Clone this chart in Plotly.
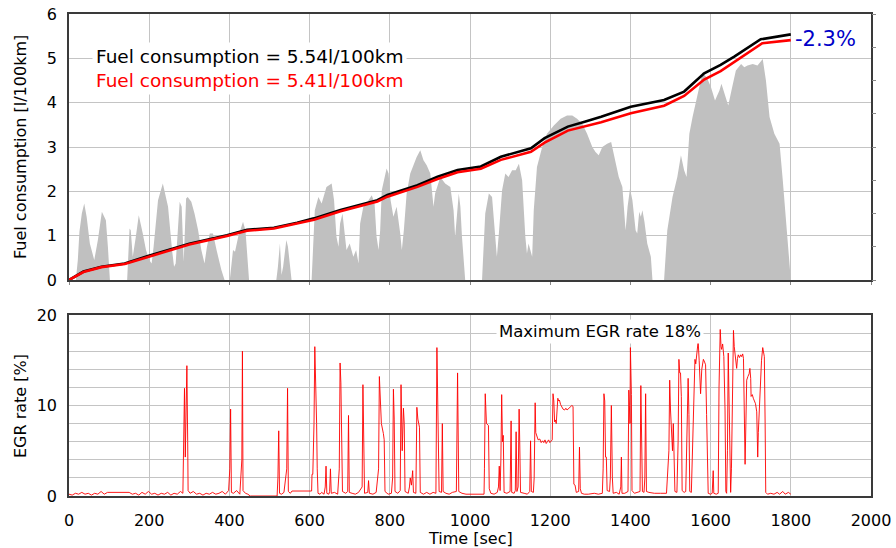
import plotly.graph_objects as go

# Vehicle speed over the drive cycle (time [s], speed [km/h]) - drawn as grey area
speed_samples = [
    (0, 0), (17, 0), (22, 12), (26, 29), (32, 40), (38, 46), (44, 38), (52, 22), (63, 12),
    (72, 24), (82, 41), (92, 36), (97, 20), (102, 0), (145, 0), (149, 20), (151, 31),
    (154, 30), (159, 14), (166, 25), (174, 39), (184, 28), (192, 18), (200, 12), (206, 10),
    (211, 20), (222, 48), (234, 58), (247, 44), (257, 18), (262, 8), (266, 10), (276, 47),
    (281, 44), (286, 11), (292, 49), (296, 50), (305, 47), (313, 40), (322, 30), (330, 18),
    (338, 10), (344, 20), (351, 28), (359, 28), (368, 18), (380, 6), (388, 0), (401, 0),
    (409, 18), (414, 17), (422, 26), (434, 35), (440, 30), (446, 12), (449, 0), (517, 0),
    (521, 8), (526, 22), (530, 3), (534, 8), (542, 24), (546, 20), (551, 6), (555, 0),
    (605, 0), (609, 20), (613, 42), (622, 50), (630, 46), (642, 56), (655, 58), (661, 48),
    (667, 26), (672, 20), (676, 34), (682, 40), (687, 30), (692, 18), (700, 22), (709, 14),
    (716, 18), (722, 10), (726, 34), (734, 44), (747, 48), (755, 51), (762, 46), (767, 26),
    (772, 18), (776, 30), (780, 54), (792, 67), (797, 64), (802, 48), (809, 38), (817, 44),
    (826, 28), (830, 18), (835, 30), (842, 52), (851, 64), (867, 74), (876, 78), (884, 72),
    (892, 69), (901, 64), (909, 44), (913, 52), (926, 62), (938, 58), (951, 56), (959, 42),
    (963, 26), (967, 40), (972, 52), (976, 44), (980, 26), (988, 0), (1030, 0), (1034, 20),
    (1038, 40), (1047, 52), (1055, 50), (1063, 26), (1067, 14), (1072, 28), (1080, 54),
    (1088, 64), (1096, 62), (1105, 66), (1114, 66), (1122, 70), (1130, 60), (1138, 26),
    (1142, 16), (1146, 22), (1150, 18), (1155, 14), (1159, 42), (1167, 68), (1180, 80),
    (1192, 88), (1209, 93), (1226, 97), (1242, 99), (1255, 99), (1267, 97), (1280, 94),
    (1292, 88), (1305, 80), (1313, 77), (1321, 75), (1330, 80), (1342, 82), (1352, 83),
    (1363, 70), (1371, 62), (1380, 56), (1384, 42), (1388, 30), (1393, 44), (1399, 55),
    (1405, 48), (1413, 30), (1417, 28), (1422, 41), (1426, 38), (1430, 42), (1435, 35),
    (1442, 22), (1451, 14), (1455, 0), (1484, 0), (1488, 16), (1492, 30), (1505, 50),
    (1517, 62), (1526, 75), (1534, 66), (1540, 62), (1547, 88), (1555, 98), (1567, 112),
    (1580, 125), (1592, 121), (1601, 116), (1611, 108), (1622, 114), (1627, 118),
    (1634, 113), (1644, 105), (1652, 114), (1663, 126), (1676, 130), (1684, 128),
    (1692, 129), (1705, 130), (1717, 129), (1730, 133), (1738, 120), (1747, 98),
    (1759, 88), (1772, 82), (1780, 60), (1788, 38), (1797, 10), (1800, 0),
]

# Cumulative fuel consumption [l/100km], baseline engine
fuel_base = [
    (0, 0), (15, 0.08), (36, 0.19), (81, 0.30), (139, 0.37), (197, 0.54), (256, 0.71),
    (300, 0.82), (394, 1.01), (444, 1.13), (511, 1.18), (569, 1.29), (611, 1.39),
    (677, 1.58), (769, 1.80), (794, 1.92), (869, 2.14), (919, 2.33), (969, 2.48),
    (1027, 2.56), (1077, 2.78), (1152, 2.97), (1186, 3.20), (1244, 3.46), (1286, 3.57),
    (1327, 3.68), (1401, 3.91), (1484, 4.06), (1534, 4.25), (1584, 4.66), (1625, 4.85),
    (1659, 5.04), (1725, 5.43), (1800, 5.54),
]

# Cumulative fuel consumption [l/100km], with EGR
fuel_egr = [
    (0, 0), (15, 0.07), (36, 0.18), (81, 0.29), (139, 0.36), (197, 0.52), (256, 0.69),
    (300, 0.80), (394, 0.99), (444, 1.11), (511, 1.16), (569, 1.27), (611, 1.36),
    (677, 1.55), (769, 1.77), (794, 1.88), (869, 2.10), (919, 2.28), (969, 2.43),
    (1027, 2.51), (1077, 2.71), (1152, 2.89), (1186, 3.10), (1244, 3.37), (1286, 3.47),
    (1327, 3.56), (1401, 3.76), (1484, 3.93), (1534, 4.15), (1584, 4.52), (1625, 4.71),
    (1659, 4.92), (1729, 5.34), (1800, 5.41),
]

# EGR rate [%] over time
egr_samples = [
    (0, 0.2), (8, 0.1), (16, 0.3), (24, 0.2), (32, 0.4), (40, 0.2), (48, 0.3), (56, 0.1),
    (64, 0.3), (72, 0.2), (80, 0.5), (88, 0.2), (96, 0.4), (104, 0.4), (150, 0.4),
    (158, 0.2), (166, 0.3), (174, 0.1), (182, 0.4), (190, 0.2), (198, 0.5), (206, 0.2),
    (214, 0.3), (222, 0.1), (230, 0.3), (238, 0.2), (246, 0.4), (254, 0.1), (262, 0.3),
    (270, 0.2), (278, 0.5), (284, 0.3), (286, 5.0), (288, 11.9), (290, 4.3), (292, 13.0),
    (294, 14.4), (296, 6.0), (297, 0.6), (302, 0.3), (310, 0.5), (318, 0.2), (326, 0.3),
    (334, 0.1), (342, 0.3), (350, 0.2), (358, 0.4), (366, 0.2), (374, 0.3), (382, 0.5),
    (390, 0.2), (398, 0.6), (401, 3.0), (403, 9.6), (405, 0.4), (410, 0.3), (418, 0.6),
    (426, 0.2), (431, 4.0), (432.5, 16.0), (434, 0.6), (440, 0.3), (446, 0.2), (452, 0.0),
    (519, 0.0), (521, 2.0), (523, 7.2), (525, 0.3), (530, 0.2), (536, 0.4), (543, 3.0),
    (545, 11.9), (547, 0.5), (552, 0.3), (556, 0.55), (605, 0.55), (606, 2.4), (608, 2.4),
    (611, 8.0), (613, 16.5), (615, 12.8), (616, 14.0), (617.5, 8.0), (619, 3.0), (621, 0.3),
    (626, 0.2), (630, 0.4), (636, 0.2), (639, 1.0), (641, 3.3), (643, 0.3), (648, 0.2),
    (650, 0.5), (652, 3.0), (654, 0.3), (662, 0.4), (670, 0.2), (674, 3.0), (676, 14.7),
    (678, 12.5), (680, 6.1), (682, 0.5), (690, 0.3), (695, 0.5), (697, 8.9), (699, 0.4),
    (706, 0.3), (714, 0.2), (722, 0.4), (731, 1.0), (733, 12.3), (735, 6.0), (737, 0.3),
    (745, 0.4), (747, 1.7), (749, 0.3), (758, 0.2), (766, 0.4), (772, 3.0), (774, 13.2),
    (776, 10.5), (779, 8.0), (784, 6.9), (786, 6.2), (788, 0.5), (796, 0.2), (804, 0.3),
    (807, 2.0), (809, 11.8), (811, 8.5), (813, 0.5), (820, 0.3), (826, 0.6), (828, 12.3),
    (831, 5.0), (834, 9.7), (836, 8.0), (838, 0.5), (846, 0.3), (849, 1.0), (851, 2.0),
    (854, 1.2), (857, 2.8), (859, 0.4), (865, 0.3), (867.5, 9.8), (870, 8.5), (874, 7.6),
    (876, 0.4), (884, 0.2), (892, 0.4), (900, 0.2), (908, 0.4), (915, 0.3), (917.5, 16.4),
    (919.5, 11.0), (921, 8.7), (923, 0.5), (929, 0.4), (931, 8.0), (933, 0.5), (940, 0.3),
    (948, 0.2), (956, 0.4), (966, 0.5), (969, 13.6), (972, 0.5), (980, 0.3), (990, 0.2),
    (1000, 0.2), (1035, 0.2), (1036, 3.0), (1038, 11.3), (1041, 8.0), (1044, 7.8),
    (1046, 7.8), (1048, 0.8), (1052, 0.3), (1060, 0.2), (1068, 0.4), (1071, 1.0),
    (1073, 3.3), (1075, 0.6), (1077, 4.0), (1079, 11.2), (1081, 6.0), (1083, 6.7),
    (1085, 0.4), (1092, 0.3), (1100, 0.5), (1102.5, 8.3), (1104, 0.4), (1110, 0.3),
    (1113, 0.6), (1115, 7.1), (1117, 0.5), (1120, 1.0), (1122.5, 9.6), (1124, 6.0),
    (1126, 0.4), (1135, 0.3), (1143, 0.2), (1149, 0.5), (1151, 6.1), (1153, 0.5),
    (1158, 0.4), (1160, 2.0), (1162.5, 10.3), (1164, 7.0), (1166, 6.7), (1170, 6.2),
    (1174, 6.3), (1177.5, 5.9), (1181, 6.1), (1184, 5.9), (1187, 6.2), (1190, 5.8),
    (1193, 6.0), (1196, 6.2), (1199, 5.9), (1202.5, 6.1), (1205, 6.2), (1207, 11.3),
    (1209, 10.5), (1211, 8.2), (1213, 8.4), (1215, 8.0), (1217, 10.6), (1219, 10.8),
    (1221, 10.5), (1223, 10.6), (1226, 10.1), (1229, 9.9), (1232, 9.6), (1236, 9.5),
    (1239, 9.7), (1242, 9.5), (1246, 9.7), (1250, 9.9), (1254, 10.0), (1257, 9.9),
    (1258, 4.0), (1259, 1.3), (1262, 1.2), (1265, 0.4), (1271, 0.5), (1273, 5.4),
    (1275, 0.8), (1278, 0.3), (1285, 0.2), (1295, 0.2), (1310, 0.3), (1320, 0.2),
    (1330, 0.3), (1332, 3.0), (1334, 11.3), (1336, 10.5), (1338, 4.3), (1340, 4.3),
    (1342, 0.6), (1348, 0.5), (1350, 2.0), (1352.5, 10.0), (1355, 2.0), (1357, 0.3),
    (1365, 0.4), (1372, 0.2), (1376, 1.0), (1377.5, 4.3), (1379, 0.3), (1386, 0.3),
    (1394, 0.5), (1396, 11.7), (1397.5, 10.0), (1399, 8.0), (1400, 16.4), (1402.5, 11.2),
    (1404, 0.6), (1410, 0.3), (1418, 0.4), (1424, 0.5), (1426, 12.2), (1428, 8.0),
    (1430, 0.5), (1434, 0.4), (1436, 2.0), (1438, 11.3), (1440, 0.5), (1446, 0.4),
    (1460, 0.3), (1475, 0.3), (1490, 0.3), (1496, 5.0), (1498, 12.8), (1500, 9.5),
    (1503, 7.0), (1505, 5.0), (1507, 8.0), (1509, 4.5), (1511, 0.5), (1516, 0.4),
    (1519, 6.0), (1521, 15.1), (1523, 13.6), (1525, 13.6), (1527, 11.0), (1529, 0.6),
    (1534, 0.4), (1538, 0.5), (1541, 8.0), (1544, 13.0), (1546, 9.0), (1548, 0.5),
    (1552, 0.4), (1555, 5.0), (1558, 11.0), (1561, 15.1), (1563, 14.6), (1566, 15.6),
    (1569, 17.1), (1571.5, 15.0), (1574, 12.0), (1575, 11.3), (1578, 14.0), (1582, 15.1),
    (1585, 14.8), (1587.5, 14.5), (1590, 9.0), (1592.5, 3.5), (1594, 0.3), (1600, 0.2),
    (1604, 0.3), (1606.5, 2.8), (1608, 0.3), (1614, 0.2), (1619, 0.3), (1621, 12.0),
    (1624, 18.4), (1626, 16.5), (1627.5, 16.2), (1630, 16.8), (1633, 15.4), (1636, 9.5),
    (1638, 0.5), (1640, 0.3), (1642, 5.0), (1644, 15.8), (1646, 11.0), (1648, 4.0),
    (1650, 0.4), (1652, 3.0), (1655, 15.0), (1657, 18.3), (1659, 16.5), (1661, 15.8),
    (1663, 14.8), (1665, 14.1), (1667, 15.2), (1669, 15.6), (1672, 15.3), (1675, 15.6),
    (1677.5, 15.4), (1680, 15.7), (1682, 15.2), (1684, 8.0), (1686, 3.5), (1688, 8.0),
    (1690, 12.8), (1693, 13.2), (1696, 13.5), (1698, 14.1), (1700, 13.0), (1701, 11.0),
    (1704, 11.2), (1706.5, 10.8), (1709, 10.6), (1712, 10.2), (1715, 9.3), (1716, 7.0),
    (1717.5, 4.3), (1719, 7.0), (1721, 9.0), (1723, 11.3), (1725, 13.0), (1727, 15.0),
    (1730, 16.4), (1732, 16.0), (1734, 15.4), (1736, 8.0), (1737.5, 0.4), (1742, 0.2),
    (1750, 0.3), (1758, 0.2), (1766, 0.4), (1772, 0.2), (1780, 0.5), (1786, 0.2),
    (1794, 0.4), (1800, 0.2),
]

x_ticks = [0, 200, 400, 600, 800, 1000, 1200, 1400, 1600, 1800, 2000]

FONT = "DejaVu Sans"
GRID = "#c4c4c4"
FRAME = "#3a3a3a"

# Figure geometry (pixels)
W, H = 896, 548
ML, MR, MT, MB = 69, 25, 14, 52
PW, PH = W - ML - MR, H - MT - MB


def px_x(px):
    return (px - ML) / PW


def px_y(py):
    return (H - MB - py) / PH


def unzip(pairs):
    return [p[0] for p in pairs], [p[1] for p in pairs]


spd_t, spd_v = unzip(speed_samples)
fb_t, fb_v = unzip(fuel_base)
fe_t, fe_v = unzip(fuel_egr)
egr_t, egr_v = unzip(egr_samples)

fig = go.Figure()

fig.add_trace(go.Scatter(
    x=spd_t, y=spd_v, xaxis="x", yaxis="y2", mode="lines",
    line=dict(width=0, color="#c0c0c0"), fill="tozeroy", fillcolor="#c0c0c0",
    showlegend=False, hoverinfo="skip",
))
fig.add_trace(go.Scatter(
    x=fb_t, y=fb_v, xaxis="x", yaxis="y3", mode="lines",
    line=dict(width=2.6, color="black"), showlegend=False,
))
fig.add_trace(go.Scatter(
    x=fe_t, y=fe_v, xaxis="x", yaxis="y3", mode="lines",
    line=dict(width=2.6, color="#ff0000"), showlegend=False,
))
fig.add_trace(go.Scatter(
    x=egr_t, y=egr_v, xaxis="x2", yaxis="y4", mode="lines",
    line=dict(width=1, color="rgba(255,0,0,0.9)"), showlegend=False,
))

frame = dict(showline=True, mirror=True, linecolor=FRAME, linewidth=1.5, zeroline=False)
tickfont = dict(family=FONT, size=16, color="black")
titlefont = dict(family=FONT, size=16, color="black")

fig.update_layout(
    width=W, height=H,
    margin=dict(l=ML, r=MR, t=MT, b=MB, autoexpand=False),
    paper_bgcolor="white", plot_bgcolor="white",
    font=dict(family=FONT, color="black"),
    xaxis=dict(
        domain=[0, 1], anchor="y", range=[0, 2000], tickvals=x_ticks,
        showticklabels=False, ticks="outside", ticklen=3, tickcolor="#888888",
        showgrid=True, gridcolor=GRID, gridwidth=1, **frame,
    ),
    yaxis=dict(
        domain=[px_y(280), 1], anchor="x", range=[0, 6], dtick=1,
        showgrid=True, gridcolor=GRID, gridwidth=1, ticks="",
        tickfont=tickfont, ticklabelstandoff=7, **frame,
    ),
    yaxis2=dict(
        overlaying="y", side="right", anchor="x", range=[0, 160], dtick=20,
        showticklabels=False, ticks="outside", ticklen=4, tickcolor="#888888",
        showgrid=False, zeroline=False, showline=False,
    ),
    yaxis3=dict(overlaying="y", anchor="x", range=[0, 6], visible=False),
    xaxis2=dict(
        domain=[0, 1], anchor="y4", range=[0, 2000], tickvals=x_ticks,
        ticks="", tickfont=tickfont, ticklabelstandoff=9,
        showgrid=True, gridcolor=GRID, gridwidth=1, **frame,
    ),
    yaxis4=dict(
        domain=[0, px_y(315)], anchor="x2", range=[0, 20], dtick=10,
        showgrid=True, gridcolor=GRID, gridwidth=1, ticks="",
        minor=dict(dtick=2, showgrid=True, gridcolor=GRID, gridwidth=1),
        tickfont=tickfont, ticklabelstandoff=7, **frame,
    ),
)

# Axis titles
fig.add_annotation(
    xref="paper", yref="paper", x=px_x(20), y=px_y(147), textangle=-90,
    text="Fuel consumption [l/100km]", showarrow=False,
    xanchor="center", yanchor="middle", font=titlefont,
)
fig.add_annotation(
    xref="paper", yref="paper", x=px_x(20), y=px_y(406), textangle=-90,
    text="EGR rate [%]", showarrow=False,
    xanchor="center", yanchor="middle", font=titlefont,
)
fig.add_annotation(
    xref="paper", yref="paper", x=px_x(470), y=px_y(538),
    text="Time [sec]", showarrow=False,
    xanchor="center", yanchor="middle", font=titlefont,
)

base_end = fb_v[-1]
egr_end = fe_v[-1]
change = (egr_end / base_end - 1) * 100

fig.add_annotation(
    xref="x", yref="y", x=57, y=4.76, xanchor="left", yanchor="middle",
    text=(f"Fuel consumption = {base_end:.2f}l/100km<br>"
          f"<span style='color:#ff0000'>Fuel consumption = {egr_end:.2f}l/100km</span>"),
    align="left", showarrow=False, bgcolor="white", borderpad=3,
    font=dict(family=FONT, size=18.5, color="black"),
)
fig.add_annotation(
    xref="x", yref="y", x=1805, y=5.44, xanchor="left", yanchor="middle",
    text=f"{change:.1f}%", showarrow=False,
    font=dict(family=FONT, size=21, color="#0000c8"),
)
fig.add_annotation(
    xref="x2", yref="y4", x=1325, y=18.15, xanchor="center", yanchor="middle",
    text=f"Maximum EGR rate {max(egr_v):.0f}%", showarrow=False,
    bgcolor="white", borderpad=2,
    font=dict(family=FONT, size=16.5, color="black"),
)

fig.write_html("out.html")
